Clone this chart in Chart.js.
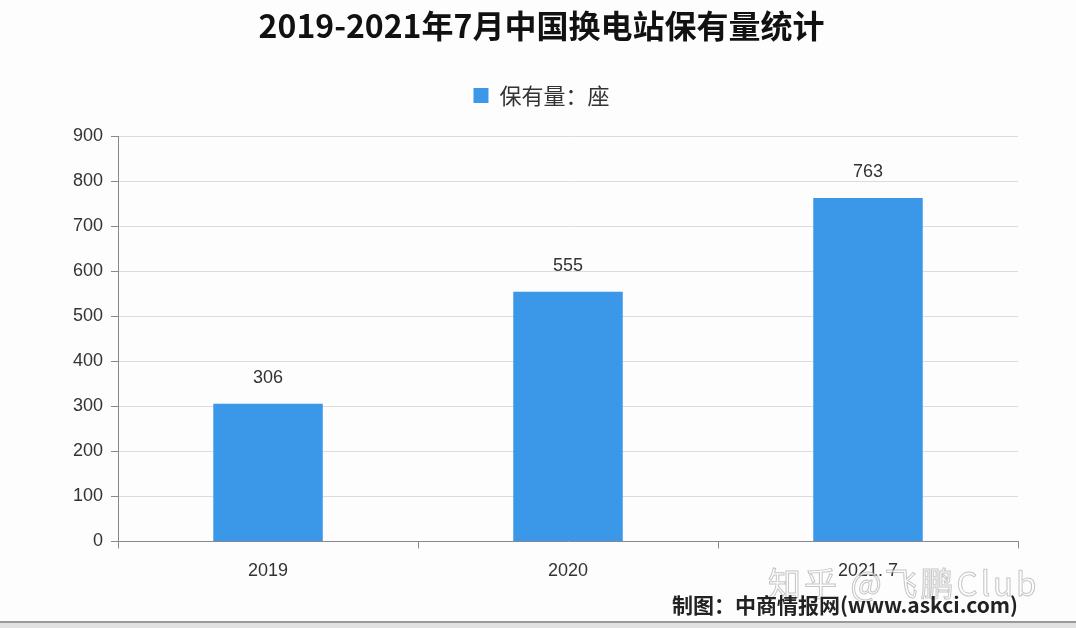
<!DOCTYPE html>
<html>
<head>
<meta charset="utf-8">
<script src="https://cdn.jsdelivr.net/npm/chart.js@4/dist/chart.umd.min.js"></script>
<style>
  html, body { margin: 0; padding: 0; background: #fff; }
  #wrap { position: relative; width: 1076px; height: 628px; overflow: hidden; background: #fdfdfd; }
  #footer { position: absolute; right: 58px; top: 589px; font: bold 21px "Noto Sans CJK SC", sans-serif; color: #222; }
  #mark { position: absolute; left: 768px; top: 558px; font: 33px "Noto Sans CJK SC", sans-serif; letter-spacing: 3px;
          color: rgba(255,255,255,0.6); -webkit-text-stroke: 1px rgba(150,150,150,0.55); }
  #edge { position: absolute; left: 0; right: 0; bottom: 0; height: 5px; background: #e2e2e2; border-top: 2px solid #999; }
</style>
</head>
<body>
<div id="wrap">
  <canvas id="chart" width="1076" height="628"></canvas>
  <div id="mark">知乎 @飞鹏Club</div>
  <div id="footer">制图：中商情报网(www.askci.com)</div>
  <div id="edge"></div>
</div>
<script>
const categories = ['2019', '2020', '2021. 7'];
const stations = [306, 555, 763];
const yTicks = [0, 100, 200, 300, 400, 500, 600, 700, 800, 900];

const BarColor = '#3b98e8';
const TextColor = '#333';

// value labels above each bar
const valueLabels = {
    id: 'valueLabels',
    afterDatasetsDraw(chart) {
        const ctx = chart.ctx;
        const meta = chart.getDatasetMeta(0);
        ctx.save();
        ctx.font = '18px "Liberation Sans", Arial, sans-serif';
        ctx.fillStyle = TextColor;
        ctx.textAlign = 'center';
        ctx.textBaseline = 'middle';
        meta.data.forEach((bar, i) => {
            ctx.fillText(String(stations[i]), bar.x, bar.y - 26);
        });
        ctx.restore();
    }
};

// extra gap between legend and plot area
const legendGap = {
    id: 'legendGap',
    beforeLayout(chart) {
        const legend = chart.legend;
        if (!legend || legend._gapPatched) return;
        const fit = legend.fit;
        legend.fit = function() {
            fit.call(this);
            this.height += 20;
        };
        legend._gapPatched = true;
    }
};

new Chart(document.getElementById('chart'), {
    type: 'bar',
    data: {
        labels: categories,
        datasets: [{
            label: '保有量：座',
            data: stations,
            backgroundColor: BarColor,
            barPercentage: 0.73,
            categoryPercentage: 0.5
        }]
    },
    options: {
        responsive: false,
        animation: false,
        layout: { padding: { left: 65, right: 58, top: 2, bottom: 34 } },
        plugins: {
            title: {
                display: true,
                text: '2019-2021年7月中国换电站保有量统计',
                color: '#111',
                font: { family: '"Noto Sans CJK SC", sans-serif', size: 32, weight: 'bold' },
                padding: { top: 5, bottom: 5 }
            },
            legend: {
                display: true,
                labels: {
                    color: TextColor,
                    boxWidth: 15,
                    boxHeight: 15,
                    font: { family: '"Noto Sans CJK SC", sans-serif', size: 22 },
                    padding: 34
                }
            },
            tooltip: { enabled: false }
        },
        scales: {
            x: {
                grid: { drawOnChartArea: false, tickLength: 7, tickColor: '#888' },
                border: { color: '#888' },
                ticks: {
                    color: TextColor,
                    padding: 12,
                    font: { family: '"Liberation Sans", Arial, sans-serif', size: 18 }
                }
            },
            y: {
                min: 0,
                max: 900,
                afterBuildTicks: (axis) => { axis.ticks = yTicks.map(v => ({ value: v })); },
                grid: { color: '#dcdcdc', tickLength: 7, tickColor: '#888' },
                border: { color: '#888' },
                ticks: {
                    color: TextColor,
                    padding: 8,
                    font: { family: '"Liberation Sans", Arial, sans-serif', size: 18 }
                }
            }
        }
    },
    plugins: [valueLabels, legendGap]
});
</script>
</body>
</html>
